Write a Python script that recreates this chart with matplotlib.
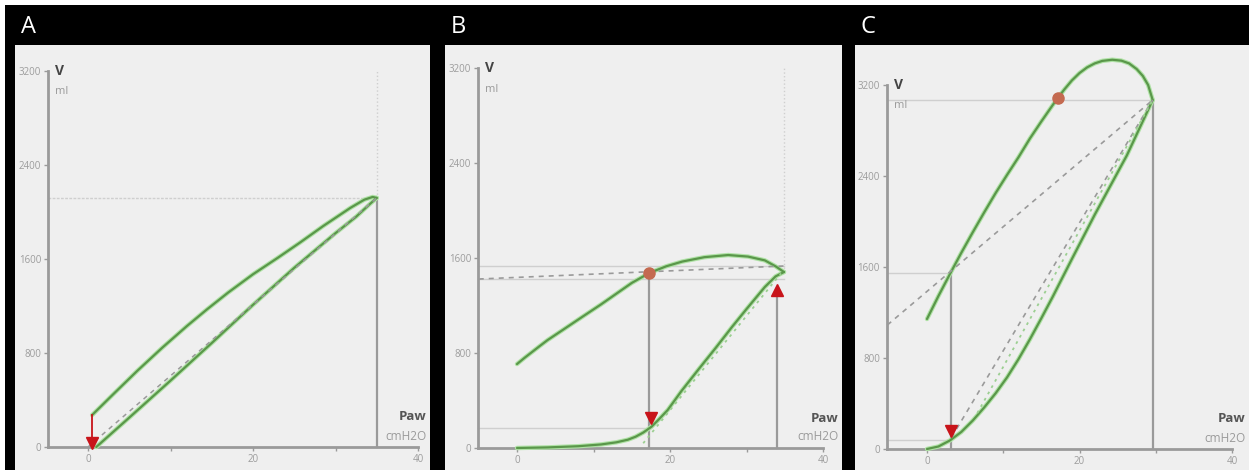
import matplotlib
matplotlib.use("Agg")
from matplotlib import pyplot as plt

plt.rcParams["font.family"] = ["Open Sans", "DejaVu Sans"]

# ---- data (Paw in cmH2O, V in ml) ----
# panel A
a_insp_p = [1, 3, 5, 10, 15, 20, 25, 30, 32.5, 34.2, 35]
a_insp_v = [0, 125, 250, 565, 885, 1210, 1525, 1820, 1960, 2070, 2120]
a_exp_p = [35, 34.5, 33.5, 31.8, 28.5, 25.7, 23, 20, 17, 14.4, 12, 9, 6, 3, 0.5]
a_exp_v = [2120, 2128, 2105, 2035, 1880, 1740, 1610, 1470, 1315, 1170, 1030, 845,
           650, 445, 272]
a_fit_p = [0, 35]
a_fit_v = [0, 2120]
a_arrow_p = 0.5
a_arrow_v = [272, 35]
a_end = (35, 2120)

# panel B
b_insp_p = [0, 4, 8, 11, 13, 14.5, 15.5, 16.5, 17.6, 18.6, 19.7, 20.6, 21.5, 23.7,
            26, 28.1, 30, 32.4, 33.8, 34.9]
b_insp_v = [0, 5, 15, 30, 48, 70, 95, 130, 180, 245, 320, 400, 480, 660,
            845, 1019, 1170, 1356, 1445, 1482]
b_exp_p = [34.9, 33.8, 32.4, 30.2, 27.6, 24.5, 21.6, 19.5, 17.3, 15, 13, 11, 8.5,
           6, 4, 3, 2, 1, 0]
b_exp_v = [1482, 1530, 1580, 1612, 1625, 1607, 1570, 1530, 1474, 1390, 1300, 1210,
           1103, 995, 909, 860, 810, 760, 707]
b_tan_p = [-5, 35]
b_tan_v = [1423, 1533]
b_fit_p = [16.5, 34.5]
b_fit_v = [40, 1470]
b_point = (17.3, 1474)
b_low_mark = (17.5, 250)
b_high_mark = (34.0, 1330)
b_low_v = 168
b_end = (34.9, 1482)

# panel C
c_insp_p = [0, 1.5, 3, 4.5, 6, 7.5, 9, 10.5, 12, 13.5, 15, 16.5, 19, 22, 26.2, 29.6]
c_insp_v = [0, 22, 75, 150, 250, 365, 490, 630, 790, 965, 1150, 1340, 1670, 2060,
            2580, 3068]
c_exp_p = [29.6, 29, 28.3, 27.5, 26.5, 25.5, 24.3, 23, 22, 21, 20, 19, 18, 17.2,
           16.5, 15, 13.5, 12, 10.5, 9, 7.5, 6, 4.5, 3.1, 1.5, 0]
c_exp_v = [3068, 3200, 3280, 3340, 3390, 3414, 3422, 3412, 3390, 3355, 3305, 3240,
           3160, 3090, 3025, 2880, 2730, 2565, 2410, 2250, 2080, 1905, 1725, 1550,
           1345, 1143]
c_tan_p = [-5.2, 29.6]
c_tan_v = [1090, 3068]
c_fit_p = [3.2, 29.6]
c_fit_v = [100, 3068]
c_gfit_p = [6.6, 29.6]
c_gfit_v = [316, 3068]
c_point = (17.2, 3090)
c_low_mark = (3.1, 160)
c_cross = (3.1, 1550)
c_low_v = 79
c_end = (29.6, 3068)

y_ticks = [0, 800, 1600, 2400, 3200]
x_major = [0, 20, 40]
x_minor = [10, 30]

# ---- layout (pixels) ----
W, H = 1249, 470
panels = {
    # left px, right px, px of Paw=0, px per cmH2O, px of V=0, px per ml, y-axis Paw
    "A": dict(l=15, r=430, x0=88, sx=8.25, y0=447, sy=0.1175, yax=-4.85),
    "B": dict(l=445, r=842, x0=517, sx=7.65, y0=448, sy=0.11875, yax=-5.1),
    "C": dict(l=855, r=1249, x0=927, sx=7.625, y0=449, sy=0.11375, yax=-5.25),
}
top = 45

GREEN_HALO = "#b0e2a6"
GREEN = "#5a974a"
GRAY = "#9a9a9a"
FAINT = "#cfcfcf"
RED = "#c8141a"
DOT = "#c46a50"

fig = plt.figure(figsize=(W / 100, H / 100), dpi=100, facecolor="white")
bg = fig.add_axes([5 / W, 0, (W - 5) / W, (H - 5) / H])
bg.set_facecolor("black")
bg.set_xticks([])
bg.set_yticks([])
for s in bg.spines.values():
    s.set_visible(False)


def make_axes(name):
    p = panels[name]
    ax = fig.add_axes([p["l"] / W, 0, (p["r"] - p["l"]) / W, (H - top) / H])
    ax.set_facecolor("#efefef")
    ax.set_xlim((p["l"] - p["x0"]) / p["sx"], (p["r"] - p["x0"]) / p["sx"])
    ax.set_ylim(-(H - p["y0"]) / p["sy"], (p["y0"] - top) / p["sy"])
    ax.spines["top"].set_visible(False)
    ax.spines["right"].set_visible(False)
    ax.spines["left"].set_position(("data", p["yax"]))
    ax.spines["bottom"].set_position(("data", 0))
    ax.spines["left"].set_bounds(0, 3200)
    ax.spines["bottom"].set_bounds(p["yax"], 40)
    for s in ("left", "bottom"):
        ax.spines[s].set_color(GRAY)
        ax.spines[s].set_linewidth(2)
    ax.set_yticks(y_ticks)
    ax.set_yticklabels([str(t) for t in y_ticks])
    ax.set_xticks(x_major)
    ax.set_xticklabels([str(t) for t in x_major])
    ax.set_xticks(x_minor, minor=True)
    ax.tick_params(axis="both", which="both", colors=GRAY, labelcolor="#9c9c9c",
                   labelsize=7, length=3, width=1, pad=2)
    ax.text(p["yax"] + 0.9, 3200, "V", fontsize=10, fontweight="bold",
            color="#444444", va="center", ha="left")
    ax.text(p["yax"] + 0.9, 3200 - 21 / p["sy"], "ml",
            fontsize=8, color="#9a9a9a", va="center", ha="left")
    xr = ax.get_xlim()[1] - 0.4
    ax.text(xr, 30 / p["sy"], "Paw", fontsize=9.5, fontweight="bold",
            color="#555555", va="center", ha="right")
    ax.text(xr, 11 / p["sy"], "cmH2O", fontsize=8.5, color="#9a9a9a",
            va="center", ha="right")
    fig.text((p["l"] + 6) / W, (H - 27) / H, name, color="white", fontsize=17,
             va="center", ha="left")
    return ax


def loop(ax, px, pv):
    ax.plot(px, pv, color=GREEN_HALO, lw=3.2, solid_capstyle="round",
            solid_joinstyle="round", zorder=3)
    ax.plot(px, pv, color=GREEN, lw=1.6, solid_capstyle="round",
            solid_joinstyle="round", zorder=4)


# ---- A ----
ax = make_axes("A")
yax = panels["A"]["yax"]
ax.plot([a_end[0], a_end[0]], [a_end[1], 3200], color=FAINT, lw=1, ls=":")
ax.plot([yax, a_end[0]], [a_end[1], a_end[1]], color=FAINT, lw=1, ls=(0, (2, 1)))
ax.plot([a_end[0], a_end[0]], [0, a_end[1]], color=GRAY, lw=1.6)
ax.plot(a_fit_p, a_fit_v, color=GRAY, lw=1.1, ls=(0, (3, 3)), zorder=5)
loop(ax, a_insp_p, a_insp_v)
loop(ax, a_exp_p, a_exp_v)
ax.plot([a_arrow_p, a_arrow_p], a_arrow_v, color=RED, lw=1.3, zorder=6)
ax.plot([a_arrow_p], [a_arrow_v[1]], marker="v", color=RED, ms=9, zorder=7)

# ---- B ----
ax = make_axes("B")
yax = panels["B"]["yax"]
ax.plot([b_end[0], b_end[0]], [b_end[1], 3200], color=FAINT, lw=1, ls=":")
ax.plot([yax, b_end[0]], [b_tan_v[1], b_tan_v[1]], color=FAINT, lw=1)
ax.plot([yax, b_end[0]], [b_tan_v[0], b_tan_v[0]], color=FAINT, lw=1)
ax.plot([yax, b_low_mark[0]], [b_low_v, b_low_v], color=FAINT, lw=1)
ax.plot(b_tan_p, b_tan_v, color=GRAY, lw=1.2, ls=(0, (3, 3)), zorder=5)
ax.plot([b_point[0], b_point[0]], [0, b_point[1]], color=GRAY, lw=1.6)
ax.plot([b_high_mark[0], b_high_mark[0]], [0, b_high_mark[1]], color=GRAY, lw=1.6)
ax.plot(b_fit_p, b_fit_v, color="#9ccf92", lw=1.3, ls=(0, (1.5, 2.5)), zorder=5)
loop(ax, b_insp_p, b_insp_v)
loop(ax, b_exp_p, b_exp_v)
ax.plot(*b_point, marker="o", color=DOT, ms=8, zorder=7)
ax.plot(*b_low_mark, marker="v", color=RED, ms=9, zorder=7)
ax.plot(*b_high_mark, marker="^", color=RED, ms=9, zorder=7)

# ---- C ----
ax = make_axes("C")
yax = panels["C"]["yax"]
ax.plot([yax, c_end[0]], [c_end[1], c_end[1]], color=FAINT, lw=1)
ax.plot([yax, c_cross[0]], [c_cross[1], c_cross[1]], color=FAINT, lw=1)
ax.plot([yax, c_cross[0]], [c_low_v, c_low_v], color=FAINT, lw=1)
ax.plot([c_end[0], c_end[0]], [0, c_end[1]], color=GRAY, lw=1.6)
ax.plot([c_cross[0], c_cross[0]], [0, c_cross[1]], color=GRAY, lw=1.6)
ax.plot(c_tan_p, c_tan_v, color=GRAY, lw=1.2, ls=(0, (3, 3)), zorder=5)
ax.plot(c_fit_p, c_fit_v, color=GRAY, lw=1.2, ls=(0, (3, 3)), zorder=5)
ax.plot(c_gfit_p, c_gfit_v, color="#9ccf92", lw=1.3, ls=(0, (1.5, 2.5)), zorder=5)
loop(ax, c_insp_p, c_insp_v)
loop(ax, c_exp_p, c_exp_v)
ax.plot(*c_point, marker="o", color=DOT, ms=8, zorder=7)
ax.plot(*c_low_mark, marker="v", color=RED, ms=9, zorder=7)

fig.savefig("out.png", dpi=100, facecolor=fig.get_facecolor())
